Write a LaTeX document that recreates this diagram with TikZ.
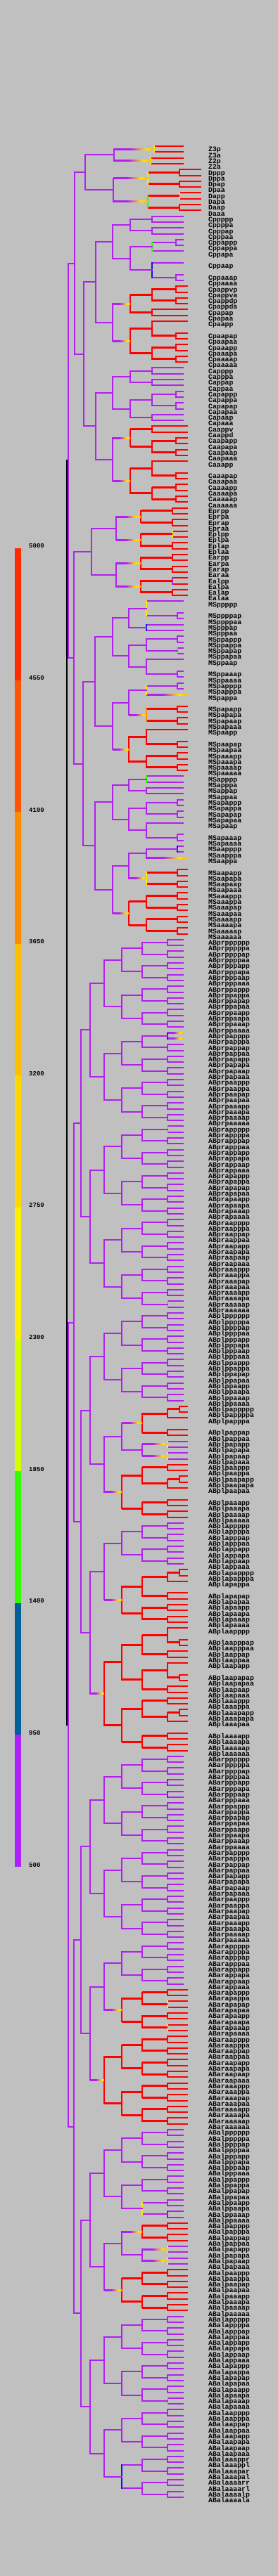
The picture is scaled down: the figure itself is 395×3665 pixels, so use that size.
\documentclass[tikz,border=0pt]{standalone}
\usepackage{fontspec}
\setmonofont{Liberation Mono}
\definecolor{bg}{RGB}{192,192,192}
\definecolor{tp}{RGB}{176,32,240}
\definecolor{tr}{RGB}{255,0,0}
\definecolor{to}{RGB}{255,140,0}
\definecolor{ty}{RGB}{255,230,0}
\definecolor{tyg}{RGB}{212,255,0}
\definecolor{tg}{RGB}{51,255,0}
\definecolor{tt}{RGB}{0,96,154}
\definecolor{tb}{RGB}{20,20,230}
\definecolor{lg1}{RGB}{255,42,0}
\definecolor{lg2}{RGB}{255,85,0}
\definecolor{lg3}{RGB}{255,140,0}
\definecolor{lg4}{RGB}{255,190,0}
\definecolor{lg5}{RGB}{255,215,0}
\definecolor{lg6}{RGB}{255,240,0}
\definecolor{lg7}{RGB}{212,255,0}
\definecolor{lg8}{RGB}{51,255,0}
\definecolor{lg9}{RGB}{0,96,154}
\definecolor{lg10}{RGB}{176,32,255}
\pgfdeclarehorizontalshading{rise}{100bp}{color(0bp)=(tp); color(45bp)=(tp); color(65bp)=(ty); color(85bp)=(to); color(100bp)=(tr)}
\pgfdeclarehorizontalshading{warm}{100bp}{color(0bp)=(to); color(12bp)=(tr); color(100bp)=(tr)}

\newcount\slotnum
\def\gapmark{-}
\def\redc{tr}

% one leaf: line end, label, next row
\newcommand\leaf[2]{%
  \pgfmathsetmacro\ly{-(208+8.3*\the\slotnum)}%
  \coordinate (#1) at (#2,\ly);
  \expandafter\xdef\csname yof:#1\endcsname{\ly}%
  \node[lab] (t#1) at (296,\ly-7.8) {#1};
  \global\advance\slotnum by 1\relax}
\newcommand\leafs[2]{%
  \foreach \n in {#2}{%
    \edef\tmp{\n}%
    \ifx\tmp\gapmark \global\advance\slotnum by 1\relax
    \else \leaf{\n}{#1}\fi}}
% all 2^n descendants of a cell, p before a
\newcommand\block[3]{%
  \ifnum#2=0 \leaf{#1}{#3}%
  \else
    \begingroup\count255=#2\relax\advance\count255 by -1\relax
    \edef\next{\noexpand\block{#1p}{\the\count255}{#3}\noexpand\block{#1a}{\the\count255}{#3}}%
    \expandafter\endgroup\next
  \fi}

% lineage data
\newcommand\lineage[2]{%
  \expandafter\xdef\csname lin:#1\endcsname{#1}%
  \foreach \v [count=\i from 0] in {#2}{\expandafter\xdef\csname gx:#1:\i\endcsname{\v}}}
\newcommand\kids[3]{%
  \expandafter\xdef\csname kidA:#1\endcsname{#2}%
  \expandafter\xdef\csname kidB:#1\endcsname{#3}}
\newcommand\setx[1]{\foreach \n/\v in {#1}{\expandafter\xdef\csname xat:\n\endcsname{\v}}}
\newcommand\setc[2]{\foreach \n in {#2}{\expandafter\xdef\csname col:\n\endcsname{#1}}}
\newcommand\setv[2]{\foreach \n in {#2}{\expandafter\xdef\csname vcol:\n\endcsname{#1}}}
\newcommand\seth[2]{\foreach \n in {#2}{\expandafter\xdef\csname hg:\n\endcsname{#1}}}

\setx{P0/94.8,P1/96.6,P2/106,P3/121,P4/162,EMS/105}
\lineage{AB}{96.6,105,115,128,148,173,202,238,255}
\lineage{C}{119,136,160,185,216,250}
\lineage{D}{161,210,255}
\lineage{E}{130,165,200,245}
\lineage{MS}{118,135,160,183,208,252}
\lineage{Z3}{219}
\lineage{Z2}{214}
\kids{P0}{P1}{AB}
\kids{P1}{P2}{EMS}
\kids{P2}{P3}{C}
\kids{P3}{P4}{D}
\kids{P4}{Z3}{Z2}
\kids{EMS}{E}{MS}
\kids{ABa}{ABar}{ABal}
\kids{ABp}{ABpr}{ABpl}
\kids{Ep}{Epr}{Epl}
\kids{Ea}{Ear}{Eal}
\kids{Cpapp}{Cpappv}{Cpappd}
\kids{Caapp}{Caappv}{Caappd}
\kids{ABalaaapp}{ABalaaappr}{ABalaaappl}
\kids{ABalaaapa}{ABalaaapar}{ABalaaapal}
\kids{ABalaaaa}{ABalaaaar}{ABalaaaal}
\kids{ABalaaaar}{ABalaaaarr}{ABalaaaarl}

\setc{tr}{Z3,Z2,Dp,Da,Cpap,Cpaa,Caap,Caaa,Epr,Epl,Ear,Eal,MSpappa,MSpapa,MSpaa,MSaappa,MSaapa,MSaaa,
  ABplpapp,ABplpaa,ABplapa,ABplaa,ABarapa,ABaraa,ABalpapp,ABalpaa,ABprpapppp,ABprpapppa}
\setv{ty}{Z3,Z2,Dap,MSpppp,MSpapp,MSaapa,ABplpapaa,ABarapapa,ABarapaaa,ABalppaa,ABalpapaa}
\setv{tyg}{Dp,Eplp,ABplpapap,ABalpapap}
\setv{tg}{Da,Cppap,MSppapa,MSappp,ABalapaaa,ABpraaaaa,ABprapppp}
\setv{tb}{Cppaa,MSpppa,MSaappp,ABalaaa,ABprpappp}
\setv{to}{MSpapa}
\setv{tt}{ABarpppap,ABarpppaa,ABalppaaa}
\setv{tp}{Ealp}
\setv{black}{P0}
\seth{rise}{ABplpapap,ABplpapaa,ABalpapap,ABalpapaa}

% horizontal branch of a cell back to its mother
\newcommand\hbranch[4]{%
  \ifx\relax#2\relax\else
    \edef\pc{#3}\def\sh{}%
    \ifx\cc\redc
      \ifx\pc\redc \ifnum#4=1 \def\sh{warm}\fi
      \else \def\sh{rise}\fi
    \fi
    \ifcsname hg:#1\endcsname \edef\sh{\csname hg:#1\endcsname}\fi
    \ifx\sh\empty
      \draw[br,color=\cc] (#1) -- (#2,\ym);
    \else
      \shade[shading=\sh] (#2,\ym-1) rectangle ([yshift=1pt]#1);
    \fi
  \fi}
% a cell and everything below it
\newcommand\sub[5]{%
  \begingroup
  \ifcsname lin:#1\endcsname
    \edef\lin{\csname lin:#1\endcsname}\def\dep{0}%
  \else \edef\lin{#3}\edef\dep{#2}\fi
  \ifcsname col:#1\endcsname \edef\cc{\csname col:#1\endcsname}\else \edef\cc{#5}\fi
  \ifcsname yof:#1\endcsname
    \edef\ym{\csname yof:#1\endcsname}%
    \hbranch{#1}{#4}{#5}{0}%
  \else
    \ifcsname xat:#1\endcsname \edef\X{\csname xat:#1\endcsname}%
    \else \edef\X{\csname gx:\lin:\dep\endcsname}\fi
    \ifcsname kidA:#1\endcsname
      \edef\A{\csname kidA:#1\endcsname}\edef\B{\csname kidB:#1\endcsname}%
    \else \edef\A{#1p}\edef\B{#1a}\fi
    \pgfmathtruncatemacro\dd{\dep+1}%
    \edef\next{\noexpand\sub{\A}{\dd}{\lin}{\X}{\cc}\noexpand\sub{\B}{\dd}{\lin}{\X}{\cc}}%
    \next
    \edef\ya{\csname yof:\A\endcsname}\edef\yb{\csname yof:\B\endcsname}%
    \pgfmathsetmacro\ym{(\ya+\yb)/2}%
    \coordinate (#1) at (\X,\ym);
    \expandafter\xdef\csname yof:#1\endcsname{\ym}%
    \ifcsname vcol:#1\endcsname \edef\vc{\csname vcol:#1\endcsname}\else \let\vc\cc\fi
    \draw[br,color=\vc] (\A -| #1) -- (\B -| #1);
    \hbranch{#1}{#4}{#5}{1}%
  \fi
  \endgroup}

\begin{document}
\begin{tikzpicture}[x=1pt,y=1pt,
  br/.style={line width=2pt,line cap=rect},
  lab/.style={font=\ttfamily\bfseries\fontsize{9.8}{10}\selectfont,anchor=base west,inner sep=0pt},
  num/.style={font=\ttfamily\bfseries\fontsize{9}{9}\selectfont,anchor=west,inner sep=0pt}]
\useasboundingbox (0,0) rectangle (395,-3665);
\fill[bg] (0,0) rectangle (395,-3665);

% colour key
\foreach \lc [count=\i from 0] in {lg1,lg2,lg3,lg4,lg5,lg6,lg7,lg8,lg9,lg10}
  \fill[color=\lc] (21,{-780-187.6*\i}) rectangle (30,{-780-187.6*(\i+1)});
\foreach \v [count=\i from 0] in {5000,4550,4100,3650,3200,2750,2300,1850,1400,950,500}
  \node[num] (v\v) at (41,{-777-187.6*\i}) {\v};

% terminal cells, top to bottom
\global\slotnum=0
\leafs{260}{Z3p,Z3a,Z2p,Z2a}
\leafs{285}{Dppp,Dppa,Dpap,Dpaa,Dapp,Dapa,Daap,Daaa}
\leafs{260}{Cppppp,Cppppa,Cpppap,Cpppaa,Cppappp,Cppappa,Cppapa,-,Cppaap,-,Cppaaap,Cppaaaa}
\leafs{266}{Cpappvp,Cpappva,Cpappdp,Cpappda,Cpapap,Cpapaa,Cpaapp,-,Cpaapap,Cpaapaa}
\block{Cpaaa}{2}{266}
\block{Capp}{2}{260}
\leafs{260}{Capappp,Capappa,Capapap,Capapaa,Capaap,Capaaa}
\leafs{266}{Caappv,Caappd}
\block{Caapa}{2}{266}
\leafs{266}{Caaapp,-,Caaapap,Caaapaa}
\block{Caaaa}{2}{266}
\leafs{266}{Eprpp,Eprpa,Eprap,Epraa,Eplpp,Eplpa,Eplap,Eplaa,
  Earpp,Earpa,Earap,Earaa,Ealpp,Ealpa,Ealap,Ealaa}
\leafs{260}{MSppppp,-,MSppppap,MSppppaa,MSpppap,MSpppaa}
\block{MSppap}{2}{260}
\leafs{260}{MSppaap,-,MSppaaap,MSppaaaa,MSpapppp,MSpapppa}
\leafs{266}{MSpappa,-}
\block{MSpapa}{2}{266}
\leafs{266}{MSpaapp,-,MSpaapap,MSpaapaa}
\block{MSpaaa}{2}{266}
\block{MSapp}{2}{260}
\block{MSapap}{2}{260}
\leafs{260}{MSapaap,-,MSapaaap,MSapaaaa,MSaapppp,MSaapppa}
\leafs{266}{MSaappa,-}
\block{MSaapa}{2}{266}
\block{MSaaa}{3}{266}
\block{ABpr}{6}{260}
\block{ABplpp}{4}{260}
\leafs{266}{ABplpappppp,ABplpappppa,ABplpapppa,-,ABplpappap,ABplpappaa}
\block{ABplpapa}{2}{266}
\leafs{266}{ABplpaappp,ABplpaappa,ABplpaapapp,ABplpaapapa,ABplpaapaa,-}
\block{ABplpaaa}{2}{266}
\block{ABplapp}{3}{260}
\leafs{266}{ABplapapppp,ABplapapppa,ABplapappa,-,ABplapapap,ABplapapaa}
\block{ABplapaa}{2}{266}
\leafs{266}{ABplaapppp,-,ABplaapppap,ABplaapppaa,ABplaappap,ABplaappaa,
  ABplaapapp,-,ABplaapapap,ABplaapapaa,ABplaapaap,ABplaapaaa,
  ABplaaappp,ABplaaappa,ABplaaapapp,ABplaaapapa,ABplaaapaa,-}
\block{ABplaaaa}{2}{266}
\block{ABarp}{5}{260}
\block{ABarapp}{3}{260}
\block{ABarapa}{3}{266}
\block{ABaraa}{4}{266}
\block{ABalpp}{4}{260}
\block{ABalpapp}{2}{266}
\block{ABalpapa}{2}{266}
\block{ABalpaa}{3}{266}
\block{ABalap}{4}{260}
\block{ABalaap}{3}{260}
\leafs{260}{ABalaaappr,ABalaaappl,ABalaaapar,ABalaaapal,ABalaaaarr,ABalaaaarl,ABalaaaalp,ABalaaaala}

% the lineage tree
\sub{P0}{0}{P}{}{tp}
\end{tikzpicture}
\end{document}
